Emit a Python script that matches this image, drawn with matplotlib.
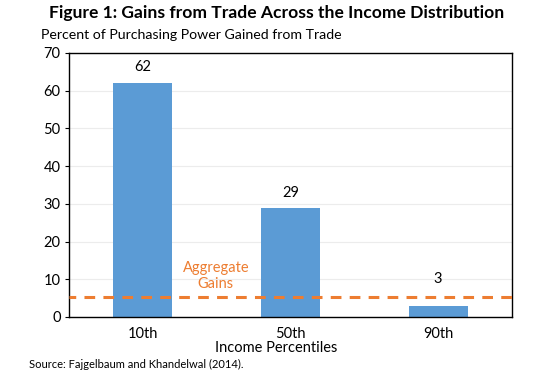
import matplotlib
matplotlib.use('Agg')
from matplotlib import pyplot as plt

plt.rcParams['font.family'] = ['Lato', 'DejaVu Sans']

# Данные
percentiles = ['10th', '50th', '90th']
gains = [62, 29, 3]
aggregate_gain = 5.3

bar_color = '#5B9BD5'
line_color = '#ED7D31'
# смещение подписей над столбцами (пт)
label_offsets = [11.5, 10.8, 19.4]

fig = plt.figure(figsize=(5.48, 3.78), dpi=100)
ax = fig.add_axes([0.1259, 0.1614, 0.8084, 0.6984])

x = range(len(percentiles))
ax.bar(x, gains, width=0.4, color=bar_color, zorder=2)
for xi, val, off in zip(x, gains, label_offsets):
    ax.annotate(str(val), (xi, val), xytext=(0, off), textcoords='offset points',
                ha='center', va='center', fontsize=10.5)

ax.axhline(aggregate_gain, color=line_color, lw=2.2, ls=(1.3, (3.5, 2.7)), zorder=3)
ax.text(0.495, 10.9, 'Aggregate\nGains', color=line_color, ha='center', va='center',
        fontsize=10.5, linespacing=1.25)

ax.set_xlim(-0.5, 2.5)
ax.set_ylim(0, 70)
ax.set_yticks(range(0, 71, 10))
ax.set_xticks(list(x))
ax.set_xticklabels(percentiles)
ax.grid(axis='y', color='#ececec', lw=0.8, zorder=0)
ax.tick_params(axis='x', length=0, labelsize=10.5, pad=7)
ax.tick_params(axis='y', length=3, labelsize=10.5, pad=3)
for s in ax.spines.values():
    s.set_color('black')
    s.set_linewidth(1)

fig.text(0.504, 0.966, 'Figure 1: Gains from Trade Across the Income Distribution',
         ha='center', va='center', fontsize=12.6, fontweight='bold')
fig.text(0.075, 0.907, 'Percent of Purchasing Power Gained from Trade',
         ha='left', va='center', fontsize=10.2)
fig.text(0.504, 0.079, 'Income Percentiles', ha='center', va='center', fontsize=10.5)
fig.text(0.053, 0.037, 'Source: Fajgelbaum and Khandelwal (2014).',
         ha='left', va='center', fontsize=8)

fig.savefig('out.png', dpi=100)
